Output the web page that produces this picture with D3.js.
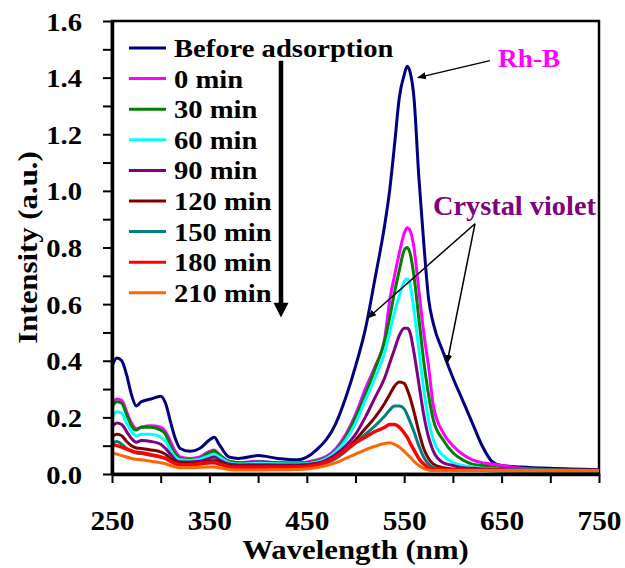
<!DOCTYPE html>
<html>
<head>
<meta charset="utf-8">
<script src="https://cdn.jsdelivr.net/npm/d3@7"></script>
<style>
  body { margin: 0; background: #fff; }
</style>
</head>
<body>
<svg id="chart" width="625" height="568"></svg>
<script>
// wavelength grid (nm) shared by every spectrum
const wavelengths = [250,255,260,265,270,275,280,290,300,305,310,315,320,330,340,350,355,360,370,380,400,420,440,460,480,490,500,510,520,530,535,540,545,550,553,556,560,565,570,575,580,590,600,610,620,630,640,650,670,700,750];

const beforeAds = [0.38,0.41,0.40,0.35,0.28,0.24,0.255,0.265,0.275,0.25,0.185,0.125,0.09,0.08,0.09,0.12,0.13,0.105,0.06,0.055,0.065,0.055,0.05,0.085,0.18,0.27,0.38,0.51,0.69,0.88,1.0,1.16,1.33,1.41,1.44,1.42,1.33,1.05,0.82,0.62,0.53,0.43,0.34,0.26,0.18,0.10,0.045,0.03,0.025,0.02,0.015];
const min0 = [0.25,0.265,0.26,0.22,0.18,0.16,0.165,0.17,0.165,0.15,0.115,0.08,0.06,0.055,0.06,0.08,0.085,0.07,0.045,0.04,0.045,0.04,0.04,0.05,0.09,0.14,0.21,0.30,0.38,0.48,0.61,0.70,0.78,0.85,0.87,0.86,0.80,0.65,0.50,0.38,0.24,0.145,0.10,0.07,0.05,0.04,0.035,0.03,0.02,0.015,0.012];
const min30 = [0.235,0.255,0.25,0.21,0.17,0.155,0.165,0.165,0.155,0.14,0.10,0.07,0.055,0.05,0.055,0.075,0.08,0.068,0.045,0.04,0.042,0.04,0.038,0.045,0.085,0.13,0.20,0.28,0.37,0.47,0.55,0.64,0.72,0.79,0.80,0.78,0.70,0.55,0.40,0.28,0.19,0.12,0.075,0.05,0.035,0.03,0.025,0.02,0.018,0.015,0.012];
const min60 = [0.20,0.22,0.215,0.18,0.15,0.135,0.14,0.14,0.13,0.115,0.085,0.06,0.05,0.048,0.052,0.065,0.07,0.06,0.04,0.035,0.038,0.036,0.035,0.042,0.08,0.12,0.18,0.26,0.34,0.43,0.50,0.57,0.63,0.68,0.69,0.67,0.58,0.44,0.30,0.19,0.12,0.065,0.04,0.03,0.025,0.02,0.018,0.016,0.015,0.013,0.01];
const min90 = [0.165,0.18,0.175,0.15,0.125,0.112,0.118,0.115,0.105,0.09,0.07,0.05,0.043,0.042,0.045,0.055,0.06,0.05,0.035,0.032,0.033,0.032,0.032,0.038,0.07,0.10,0.14,0.20,0.27,0.34,0.39,0.44,0.49,0.515,0.515,0.50,0.43,0.32,0.21,0.13,0.08,0.04,0.03,0.022,0.02,0.018,0.016,0.015,0.014,0.012,0.01];
const min120 = [0.13,0.14,0.135,0.115,0.10,0.092,0.09,0.085,0.078,0.07,0.055,0.045,0.038,0.037,0.04,0.045,0.048,0.042,0.03,0.028,0.028,0.028,0.028,0.033,0.06,0.085,0.12,0.16,0.20,0.25,0.28,0.31,0.325,0.32,0.30,0.27,0.22,0.15,0.09,0.055,0.035,0.022,0.018,0.015,0.013,0.012,0.012,0.011,0.01,0.01,0.01];
const min150 = [0.11,0.115,0.105,0.09,0.08,0.074,0.072,0.066,0.06,0.055,0.045,0.037,0.033,0.032,0.035,0.04,0.042,0.036,0.026,0.024,0.024,0.024,0.025,0.03,0.055,0.08,0.11,0.14,0.17,0.205,0.225,0.24,0.24,0.23,0.21,0.185,0.15,0.10,0.06,0.035,0.022,0.016,0.014,0.013,0.012,0.012,0.011,0.011,0.01,0.01,0.01];
const min180 = [0.105,0.10,0.095,0.088,0.082,0.077,0.075,0.068,0.06,0.055,0.045,0.037,0.033,0.033,0.036,0.04,0.04,0.035,0.026,0.024,0.024,0.024,0.025,0.032,0.06,0.085,0.11,0.13,0.15,0.165,0.175,0.175,0.165,0.145,0.13,0.11,0.085,0.055,0.035,0.022,0.018,0.016,0.015,0.014,0.014,0.013,0.013,0.013,0.012,0.012,0.012];
const min210 = [0.075,0.07,0.065,0.06,0.055,0.052,0.05,0.045,0.04,0.036,0.03,0.025,0.022,0.022,0.024,0.025,0.025,0.022,0.016,0.014,0.014,0.015,0.016,0.022,0.04,0.055,0.07,0.085,0.098,0.108,0.11,0.105,0.095,0.08,0.07,0.06,0.045,0.03,0.02,0.014,0.012,0.012,0.012,0.012,0.012,0.012,0.012,0.012,0.012,0.012,0.012];

const seriesNames = ["Before adsorption","0 min","30 min","60 min","90 min","120 min","150 min","180 min","210 min"];
const seriesValues = [beforeAds, min0, min30, min60, min90, min120, min150, min180, min210];
const seriesColors = ["#000080","#ff00ff","#008000","#00ffff","#800080","#800000","#008080","#ff0000","#ff6600"];

const xTicks = [250,300,350,400,450,500,550,600,650,700,750];
const xLabels = [250,350,450,550,650,750];
const yTicks = [0,0.1,0.2,0.3,0.4,0.5,0.6,0.7,0.8,0.9,1.0,1.1,1.2,1.3,1.4,1.5,1.6];
const yLabels = [0,0.2,0.4,0.6,0.8,1.0,1.2,1.4,1.6];

let fontFamily = "'Liberation Serif', 'Times New Roman', Times, 'DejaVu Serif', serif";
let svg = d3.select("#chart");
let x = d3.scaleLinear().domain([250, 750]).range([112, 599]);
let y = d3.scaleLinear().domain([0, 1.6]).range([474, 21]);
let stretch = 1.1;   // the original lettering is a little wide

function label(sel, size) {
    return sel.attr("font-family", fontFamily)
        .attr("font-weight", "bold")
        .attr("font-size", size)
        .style("font-family", fontFamily)
        .style("font-weight", "bold")
        .style("font-size", size + "px");
}

// frame (top and right sides)
svg.append("rect")
    .attr("x", x(250)).attr("y", y(1.6))
    .attr("width", x(750) - x(250)).attr("height", y(0) - y(1.6))
    .attr("fill", "none").attr("stroke", "#000").attr("stroke-width", 2.5);

// spectra
let line = d3.line()
    .x(function (d) { return x(d[0]); })
    .y(function (d) { return y(d[1]); })
    .curve(d3.curveMonotoneX);

seriesValues.forEach(function (vals, i) {
    svg.append("path")
        .datum(wavelengths.map(function (w, k) { return [w, vals[k]]; }))
        .attr("fill", "none")
        .attr("stroke", seriesColors[i])
        .attr("stroke-width", i == 7 ? 3.5 : 3)
        .attr("stroke-linejoin", "round")
        .attr("d", line);
});

// axes
let xAxis = svg.append("g")
    .attr("transform", "translate(0," + y(0) + ")")
    .call(d3.axisBottom(x).tickValues(xTicks).tickSize(9).tickSizeOuter(0)
        .tickFormat(function (d) { return xLabels.indexOf(d) >= 0 ? d : ""; }));
let yAxis = svg.append("g")
    .attr("transform", "translate(" + x(250) + ",0)")
    .call(d3.axisLeft(y).tickValues(yTicks).tickSize(9).tickSizeOuter(0)
        .tickFormat(function (d) {
            return yLabels.some(function (v) { return Math.abs(v - d) < 1e-6; }) ? d3.format(".1f")(d) : "";
        }));

[xAxis, yAxis].forEach(function (ax) {
    ax.attr("font-family", null);
    ax.select(".domain").attr("stroke-width", 3.5);
    ax.selectAll(".tick line").attr("stroke-width", 2);
});
label(xAxis.selectAll(".tick text"), 28)
    .attr("y", 0).attr("dy", 0)
    .attr("transform", "translate(0,56) scale(1.05,1)")
    .attr("fill", "#000");
label(yAxis.selectAll(".tick text"), 26)
    .attr("x", 0).attr("dy", 0)
    .attr("transform", "translate(-30,9) scale(1.1,1)")
    .attr("fill", "#000");

// axis titles
label(svg.append("text"), 28)
    .attr("transform", "translate(" + ((x(250) + x(750)) / 2) + ",559) scale(" + stretch + ",1)")
    .attr("text-anchor", "middle")
    .text("Wavelength (nm)");
label(svg.append("text"), 28)
    .attr("transform", "translate(37," + ((y(0) + y(1.6)) / 2) + ") rotate(-90) scale(" + stretch + ",1)")
    .attr("text-anchor", "middle")
    .text("Intensity (a.u.)");

// legend
let legend = svg.append("g");
seriesNames.forEach(function (name, i) {
    let ly = 48 + i * 30.6;
    legend.append("line")
        .attr("x1", 129).attr("x2", 166).attr("y1", ly).attr("y2", ly)
        .attr("stroke", seriesColors[i]).attr("stroke-width", 3);
    label(legend.append("text"), 26)
        .attr("transform", "translate(174," + (ly + 9) + ") scale(" + stretch + ",1)")
        .text(name);
});

// time arrow
let arrowX = x(423.5);
svg.append("line")
    .attr("x1", arrowX).attr("x2", arrowX)
    .attr("y1", y(1.46)).attr("y2", y(0.60))
    .attr("stroke", "#000").attr("stroke-width", 4.5);
svg.append("path")
    .attr("d", "M" + (arrowX - 7.5) + "," + y(0.605) + "L" + (arrowX + 7.5) + "," + y(0.605) + "L" + arrowX + "," + y(0.553) + "Z")
    .attr("fill", "#000");

// annotation arrows
svg.append("defs").append("marker")
    .attr("id", "head")
    .attr("viewBox", "0 0 10 10").attr("refX", 9).attr("refY", 5)
    .attr("markerWidth", 9).attr("markerHeight", 9).attr("markerUnits", "userSpaceOnUse")
    .attr("orient", "auto")
    .append("path").attr("d", "M0,1L10,5L0,9Z").attr("fill", "#000");

let pointers = [
    [[638, 1.46], [564, 1.40]],
    [[622.7, 0.884], [512.8, 0.551]],
    [[622.7, 0.884], [594, 0.392]]
];
pointers.forEach(function (p) {
    svg.append("line")
        .attr("x1", x(p[0][0])).attr("y1", y(p[0][1]))
        .attr("x2", x(p[1][0])).attr("y2", y(p[1][1]))
        .attr("stroke", "#000").attr("stroke-width", 1.5)
        .attr("marker-end", "url(#head)");
});

label(svg.append("text"), 26)
    .attr("transform", "translate(498,67) scale(1.05,1)")
    .attr("fill", "#ff00ff")
    .text("Rh-B");
label(svg.append("text"), 27)
    .attr("transform", "translate(433,215) scale(1.05,1)")
    .attr("fill", "#800080")
    .text("Crystal violet");
</script>
</body>
</html>
